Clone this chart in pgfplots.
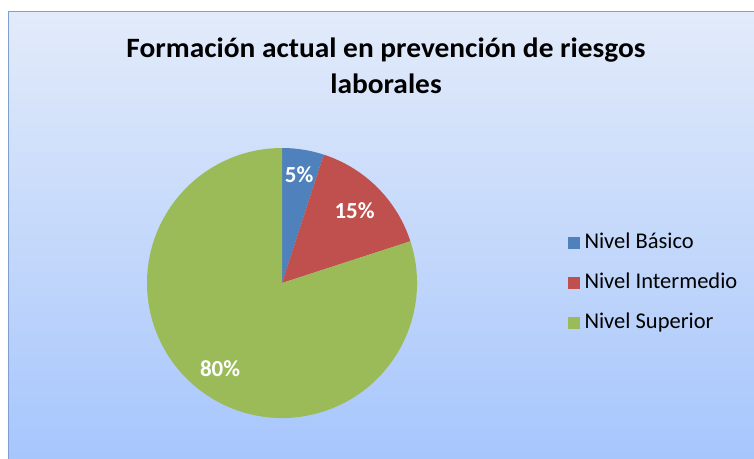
\documentclass[border=0pt]{standalone}
\usepackage{fontspec}
\setmainfont{Carlito}
\newfontfamily\titlefont[FakeStretch=1.05]{Carlito}
\usepackage{pgfplots}
\pgfplotsset{compat=1.18}
\definecolor{pieblue}{HTML}{4F81BD}
\definecolor{piered}{HTML}{C0504D}
\definecolor{piegreen}{HTML}{9BBB59}
\definecolor{bgtop}{HTML}{E2EBFA}
\definecolor{bgbot}{HTML}{A7C6FC}
\definecolor{frame}{HTML}{7F9FCF}

% one slice: start (%), value (%), colour, label radius
\newcommand\pieslice[4]{%
  \pgfmathsetmacro\sa{90-3.6*#1}%
  \pgfmathsetmacro\sb{90-3.6*(#1+#2)}%
  \pgfmathsetmacro\sm{(\sa+\sb)/2}%
  \fill[#3] (axis cs:0,0) -- (axis cs:{cos(\sa)},{sin(\sa)})
    arc[start angle=\sa, end angle=\sb, radius=135bp] -- cycle;
  \node[text=white, font=\fontsize{23bp}{26bp}\selectfont\bfseries]
    at (axis cs:{#4*cos(\sm)},{#4*sin(\sm)}) {#2\%};
}

\begin{document}
\begin{tikzpicture}
\useasboundingbox (0,0) rectangle (754bp,-459bp);
\fill[white] (0,0) rectangle (754bp,-459bp);
\shade[top color=bgtop, bottom color=bgbot] (8.5bp,-11.5bp) rectangle (754bp,-459bp);
\draw[frame, line width=1.2bp] (8.5bp,-459bp) -- (8.5bp,-11.5bp) -- (754bp,-11.5bp);

\node[align=center, font=\fontsize{28bp}{36bp}\titlefont\bfseries]
  at (386bp,-66bp) {Formación actual en prevención de riesgos\\laborales};

\begin{axis}[
  at={(282bp,-283bp)}, anchor=center,
  scale only axis, width=270bp, height=270bp,
  xmin=-1, xmax=1, ymin=-1, ymax=1,
  hide axis,
  legend cell align=left,
  legend style={at={(1.548,0.5)}, anchor=west, draw=none, fill=none,
    font=\fontsize{22.5bp}{26bp}\selectfont,
    row sep=20bp,
    nodes={inner sep=0pt, text height=15bp, text depth=5bp}},
  legend image code/.code={\fill[#1] (0bp,-5.5bp) rectangle (11bp,5.5bp);},
]
\addlegendimage{pieblue}\addlegendentry{\hspace{5bp}Nivel Básico}
\addlegendimage{piered}\addlegendentry{\hspace{5bp}Nivel Intermedio}
\addlegendimage{piegreen}\addlegendentry{\hspace{5bp}Nivel Superior}
\pgfplotsextra{%
  \pieslice{0}{5}{pieblue}{0.81}%
  \pieslice{5}{15}{piered}{0.76}%
  \pieslice{20}{80}{piegreen}{0.78}%
}
\end{axis}
\end{tikzpicture}
\end{document}
